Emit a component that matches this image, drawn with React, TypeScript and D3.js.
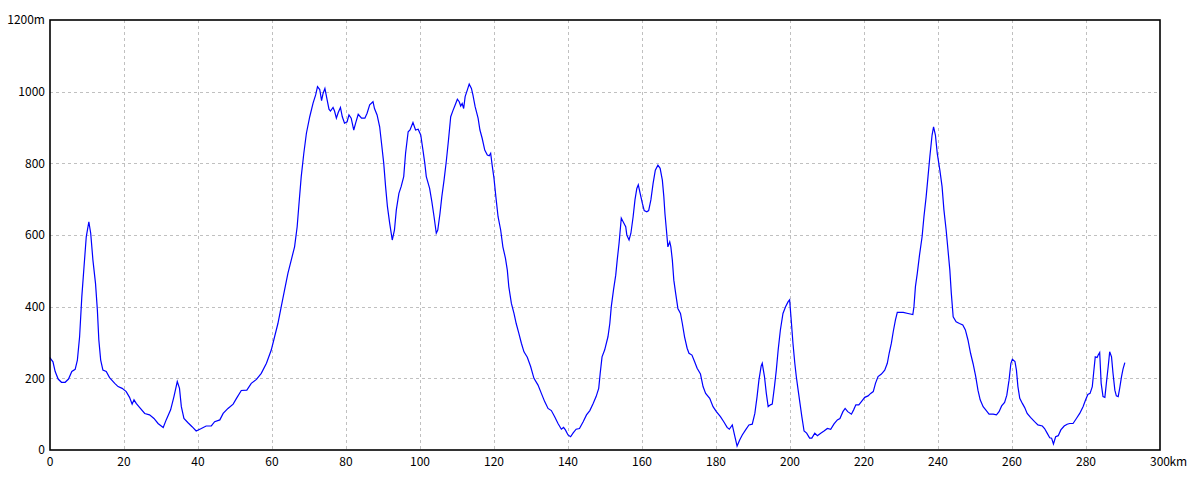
import React from "react";
import * as d3 from "d3";

const distKm: number[] = [
  0, 0.2, 0.8, 1.4, 2.2, 3.1, 4.1, 5.0, 5.9, 6.8, 7.4, 8.0, 8.6, 9.2, 9.8, 10.5, 11.0, 11.6, 12.3, 12.8, 13.2, 13.7, 14.3, 15.2, 16.1, 17.5, 18.4, 19.5,
  20.6, 21.5, 22.2, 22.7, 23.3, 24.2, 25.6, 26.9, 28.1, 29.2, 30.6, 31.4, 32.6, 33.5, 34.4, 35.0, 35.5, 36.2, 37.3, 38.4, 39.5,
  40.9, 42.2, 43.6, 44.5, 45.9, 46.8, 48.1, 49.5, 50.4, 51.7, 53.2, 54.4, 55.8, 57.1, 58.5, 59.8,
  60.7, 61.6, 62.5, 63.4, 64.3, 65.2, 66.1, 66.8, 67.3, 67.9, 68.6, 69.3, 70.2, 71.1, 71.8, 72.3, 72.9, 73.4, 73.8, 74.3, 74.9, 75.4, 75.8, 76.5, 76.9, 77.4, 77.9, 78.5, 79.0, 79.6,
  80.3, 80.8, 81.4, 82.1, 82.6, 83.3, 84.2, 85.1, 85.7, 86.4, 87.3, 87.7, 88.4, 89.1, 89.6, 90.2, 90.7, 91.2, 91.8, 92.5, 93.1, 93.6, 94.3, 94.9, 95.6, 96.1, 96.8, 97.3, 98.1, 98.8, 99.5,
  100.2, 100.8, 101.3, 101.7, 102.6, 103.2, 103.8, 104.4, 104.8, 105.4, 105.9, 106.5, 107.1, 107.7, 108.3, 108.9, 109.5, 110.1, 110.6, 111.0, 111.4, 111.8, 112.2, 112.8, 113.3, 113.9, 114.3, 114.9, 115.7, 116.2, 116.8, 117.5, 118.2, 118.7, 119.1, 119.5,
  120.0, 120.5, 121.1, 121.8, 122.4, 123.1, 123.6, 124.0, 124.7, 125.4, 126.0, 126.7, 127.4, 128.1, 129.0, 129.9, 130.8, 131.9, 132.8, 133.7, 134.6, 135.5, 136.4, 137.3, 138.2, 138.8, 139.3,
  140.0, 140.7, 141.4, 142.2, 143.1, 144.1, 145.0, 145.9, 146.8, 147.6, 148.3, 148.7, 149.2, 149.9, 150.8, 151.3, 151.7, 152.3, 152.9, 153.3, 153.8, 154.4, 154.9, 155.6, 155.9, 156.5, 157.0, 157.6, 158.1, 158.6, 159.0, 159.5,
  160.1, 160.6, 161.3, 161.8, 162.4, 163.0, 163.6, 164.3, 164.9, 165.5, 165.9, 166.2, 166.6, 167.0, 167.5, 167.8, 168.2, 168.6, 169.1, 169.7, 170.4, 170.9, 171.5, 172.2, 172.7, 173.5, 174.2, 174.9, 175.8, 176.5, 177.2, 178.3, 179.2,
  180.1, 181.2, 182.1, 183.0, 183.6, 184.4, 185.0, 185.7, 186.4, 187.1, 188.0, 188.9, 189.8, 190.5, 191.1, 191.6, 192.2, 192.5, 193.1, 193.6, 194.1, 194.7, 195.2, 195.8, 196.3, 196.8, 197.4, 198.1, 198.8, 199.5, 199.9,
  200.4, 200.8, 201.3, 201.7, 202.2, 202.7, 203.2, 203.8, 204.5, 205.3, 205.9, 206.7, 207.4, 208.3, 209.2, 210.1, 211.0, 211.9, 212.8, 213.5, 214.3, 214.9, 215.6, 216.6, 217.2, 217.8, 218.6, 219.3,
  220.2, 221.1, 221.8, 222.5, 223.1, 223.8, 224.7, 225.6, 226.3, 226.8, 227.4, 227.9, 228.5, 229.0, 230.6, 231.9, 233.2, 233.5, 233.9, 234.4, 235.0, 235.7, 236.2, 236.8, 237.3, 237.8, 238.4, 238.8, 239.3, 239.8,
  240.5, 241.1, 241.6, 242.2, 242.7, 243.2, 243.6, 244.1, 244.9, 245.8, 246.7, 247.4, 248.1, 248.8, 249.5, 250.2, 250.8, 251.4, 252.2, 252.9, 253.8, 254.9, 255.8, 256.5, 257.2, 258.0, 258.6, 259.2, 259.7,
  260.1, 260.8, 261.2, 261.6, 262.1, 262.8, 263.4, 264.1, 265.0, 266.1, 267.0, 268.2, 268.8, 269.5, 270.2, 270.7, 271.2, 271.8, 272.5, 273.2, 274.1, 274.9, 275.6, 276.5, 277.4, 278.3, 279.2, 279.9,
  280.5, 281.1, 281.7, 282.1, 282.5, 283.0, 283.3, 283.7, 284.1, 284.6, 285.1, 285.5, 286.0, 286.4, 286.9, 287.3, 287.8, 288.2, 288.7, 289.1, 289.6, 290.0, 290.5,
];

const elevM: number[] = [
  258, 254, 246, 219, 198, 189, 189, 198, 219, 225, 251, 316, 428, 512, 595, 637, 605, 530, 465, 391, 307, 251, 223, 219, 202, 186, 177, 172,
  163, 147, 128, 140, 130, 119, 102, 98, 88, 74, 63, 84, 112, 149, 191, 172, 121, 88, 76, 65, 53,
  60, 67, 67, 79, 84, 102, 116, 128, 144, 166, 167, 186, 197, 214, 242, 279,
  316, 353, 400, 447, 493, 530, 567, 623, 688, 763, 828, 884, 930, 968, 991, 1014, 1006, 975, 995, 1009, 977, 951, 946, 956, 946, 926, 942, 956, 930, 912,
  916, 935, 926, 893, 912, 937, 926, 926, 940, 963, 972, 953, 935, 902, 856, 800, 735, 679, 633, 586, 614, 670, 716, 735, 763, 828, 888, 893, 914, 893, 895,
  879, 837, 800, 763, 730, 693, 651, 605, 614, 660, 707, 753, 805, 865, 930, 947, 963, 979, 972, 960, 967, 953, 986, 1005, 1021, 1009, 991, 958, 926, 893, 870, 837, 823, 821, 828, 795,
  758, 707, 651, 614, 567, 535, 502, 456, 409, 381, 353, 326, 298, 274, 259, 233, 200, 181, 158, 135, 116, 110, 93, 74, 58, 63, 56,
  42, 37, 48, 58, 60, 79, 98, 110, 130, 149, 172, 214, 260, 279, 316, 353, 400, 447, 488, 530, 577, 647, 637, 623, 600, 586, 605, 651, 698, 730, 740, 716,
  688, 668, 665, 668, 698, 744, 781, 795, 786, 753, 707, 660, 614, 567, 581, 567, 530, 474, 437, 395, 381, 353, 316, 284, 270, 265, 247, 228, 212, 177, 158, 144, 121,
  107, 93, 79, 63, 58, 70, 42, 11, 28, 42, 56, 70, 72, 102, 149, 195, 234, 242, 205, 158, 121, 126, 128, 177, 223, 279, 335, 381, 400, 414, 419,
  353, 298, 242, 205, 167, 130, 93, 53, 47, 33, 33, 47, 40, 47, 53, 60, 58, 73, 84, 88, 107, 116, 107, 100, 112, 126, 126, 135,
  147, 151, 158, 163, 186, 205, 212, 223, 242, 270, 298, 330, 363, 384, 384, 381, 378, 400, 456, 493, 544, 595, 651, 707, 763, 819, 879, 902, 879, 828,
  781, 735, 670, 614, 558, 502, 437, 372, 358, 353, 349, 335, 307, 270, 240, 205, 167, 140, 121, 112, 100, 100, 98, 107, 123, 133, 153, 195, 242,
  253, 247, 223, 177, 144, 130, 119, 102, 91, 79, 70, 67, 60, 47, 34, 33, 17, 37, 40, 56, 67, 72, 74, 74, 88, 102, 121, 140,
  155, 158, 177, 219, 260, 258, 265, 272, 186, 149, 147, 186, 233, 274, 260, 214, 167, 151, 149, 172, 205, 226, 244,
];

const xTicks: number[] = [0, 20, 40, 60, 80, 100, 120, 140, 160, 180, 200, 220, 240, 260, 280, 300];
const yTicks: number[] = [0, 200, 400, 600, 800, 1000, 1200];
const xUnit = "km";
const yUnit = "m";

export default function App() {
  const W = 1200;
  const H = 480;
  const left = 50;
  const right = 1160;
  const top = 20;
  const bottom = 450;

  const x = d3.scaleLinear().domain([0, 300]).range([left, right]);
  const y = d3.scaleLinear().domain([0, 1200]).range([bottom, top]);

  const pts: [number, number][] = distKm.map((d, i) => [d, elevM[i]]);
  const line = d3
    .line<[number, number]>()
    .x((d) => x(d[0]))
    .y((d) => y(d[1]));

  const font = "'MS Gothic', 'Noto Sans CJK JP', 'DejaVu Sans', sans-serif";
  const lastX = xTicks[xTicks.length - 1];
  const lastY = yTicks[yTicks.length - 1];

  return (
    <svg
      width={W}
      height={H}
      style={{ position: "absolute", left: 0, top: 0, background: "#fff" }}
    >
      <rect x={0} y={0} width={W} height={H} fill="#fff" />
      {xTicks
        .filter((t) => t !== 0 && t !== lastX)
        .map((t) => (
          <line
            key={"gx" + t}
            x1={Math.round(x(t)) + 0.5}
            x2={Math.round(x(t)) + 0.5}
            y1={top}
            y2={bottom}
            stroke="#c0c0c0"
            strokeWidth={1}
            strokeDasharray="3,3"
          />
        ))}
      {yTicks
        .filter((t) => t !== 0 && t !== lastY)
        .map((t) => (
          <line
            key={"gy" + t}
            x1={left}
            x2={right}
            y1={Math.round(y(t)) + 0.5}
            y2={Math.round(y(t)) + 0.5}
            stroke="#c0c0c0"
            strokeWidth={1}
            strokeDasharray="3,3"
          />
        ))}
      <path d={line(pts) || ""} fill="none" stroke="#0000ff" strokeWidth={1.2} />
      <rect
        x={left}
        y={top}
        width={right - left}
        height={bottom - top}
        fill="none"
        stroke="#000"
        strokeWidth={1.6}
      />
      {yTicks.map((t) => (
        <text
          key={"ty" + t}
          x={45}
          y={y(t)}
          dy="0.35em"
          textAnchor="end"
          fontFamily={font}
          fontSize={12}
          fill="#000"
        >
          {t === lastY ? `${t}${yUnit}` : `${t}`}
        </text>
      ))}
      {xTicks.map((t) => (
        <text
          key={"tx" + t}
          x={x(t)}
          y={462}
          dy="0.35em"
          textAnchor="middle"
          fontFamily={font}
          fontSize={12}
          fill="#000"
        >
          {`${t}`}
        </text>
      ))}
      <text
        x={x(lastX) + 9.5}
        y={462}
        dy="0.35em"
        textAnchor="start"
        fontFamily={font}
        fontSize={12}
        fill="#000"
      >
        {xUnit}
      </text>
    </svg>
  );
}
